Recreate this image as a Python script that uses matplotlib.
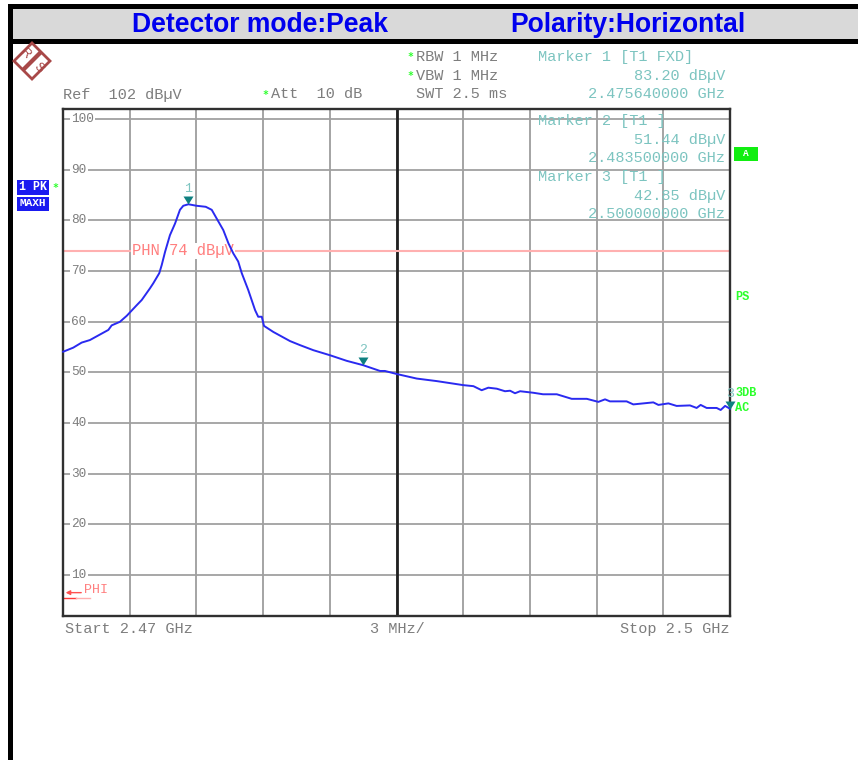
import numpy as np
import matplotlib
matplotlib.use("Agg")
import matplotlib.pyplot as plt
from matplotlib.patches import Rectangle, Polygon
from matplotlib.path import Path

W, H = 858, 760
MONO = "Liberation Mono"
SANS = "Liberation Sans"

# ---- data ----
start_ghz = 2.47
stop_ghz = 2.5
trace_offset_mhz = [0.01, 0.46, 0.84, 1.21, 2.04, 2.19, 2.56, 2.87, 3.32, 3.54, 3.91, 4.06, 4.33, 4.44, 4.59, 4.81, 5.04, 5.26, 5.41,
                    5.64, 6.01, 6.42, 6.69, 6.91, 7.21, 7.44, 7.66, 7.88, 8.04, 8.33, 8.64, 8.78, 8.94, 9.04, 9.46, 10.21,
                    10.66, 11.26, 11.71, 12.01, 12.76, 13.5, 14.26, 14.48, 15.01, 15.91, 16.81, 18.01, 18.46,
                    18.83, 19.13, 19.51, 19.88, 20.11, 20.33, 20.56, 21.15, 21.59, 22.21, 22.88, 23.56, 24.08,
                    24.38, 24.60, 25.35, 25.65, 26.55, 26.78, 27.23, 27.60, 28.20, 28.50, 28.68, 28.95, 29.40,
                    29.58, 29.78, 30.00]
trace_dbuv = [54.1, 54.9, 55.9, 56.4, 58.4, 59.3, 60.0, 61.2, 63.3, 64.3, 66.6, 67.6, 69.6, 71.2, 73.8, 77.1, 79.4, 82.1, 82.9,
              83.2, 82.9, 82.7, 82.1, 80.4, 78.1, 75.5, 73.5, 71.9, 69.6, 66.3, 62.3, 61.0, 61.0, 59.2, 58.0, 56.2,
              55.4, 54.4, 53.8, 53.4, 52.3, 51.44, 50.3, 50.3, 49.7, 48.8, 48.3, 47.5, 47.3,
              46.5, 47.0, 46.8, 46.3, 46.4, 45.9, 46.3, 46.0, 45.7, 45.7, 44.8, 44.8, 44.2,
              44.7, 44.3, 44.3, 43.7, 44.1, 43.6, 43.9, 43.4, 43.5, 43.0, 43.6, 43.0, 43.0,
              42.6, 43.4, 42.85]
marker_ghz = [2.47564, 2.4835, 2.5]
marker_dbuv = [83.20, 51.44, 42.85]
marker_names = ["1", "2", "3"]
y_ticks = [100, 90, 80, 70, 60, 50, 40, 30, 20, 10]
limit_phn = 74
limit_phi = 5.45
ref_level = 102
bottom_level = 2
title_left = "Detector mode:Peak"
title_right = "Polarity:Horizontal"
marker_block = [("Marker 1 [T1 FXD]", "83.20 dBµV", "2.475640000 GHz"),
                ("Marker 2 [T1 ]", "51.44 dBµV", "2.483500000 GHz"),
                ("Marker 3 [T1 ]", "42.85 dBµV", "2.500000000 GHz")]

GRAY_TXT = "#7d7d7d"
TEAL_TXT = "#7cc4c0"
GREEN = "#2cff2c"
SALMON = "#ff7f7f"

fig = plt.figure(figsize=(W / 100, H / 100), dpi=100, facecolor="white")


def fx(x):
    return x / W


def fy(y):
    return 1 - y / H


def frect(x0, y0, x1, y1, color, z=0):
    fig.add_artist(Rectangle((fx(x0), fy(y1)), (x1 - x0) / W, (y1 - y0) / H, transform=fig.transFigure,
                             facecolor=color, edgecolor="none", zorder=z))


def ftext(x, y, s, color=GRAY_TXT, size=11, ha="left", family=MONO, weight="normal", z=5, **kw):
    fig.text(fx(x), fy(y), s, color=color, fontsize=size, ha=ha, va="center", family=family,
             weight=weight, zorder=z, **kw)


# frame and banner
frect(8, 4, W, 44, "black")
frect(13, 9, W, 39, "#d9d9d9", z=1)
frect(8, 4, 13, H, "black", z=2)
ftext(260.5, 25.5, title_left, color="#0000ee", size=19.1, ha="center", family=SANS, weight="bold")
ftext(627.5, 25.5, title_right, color="#0000ee", size=19.1, ha="center", family=SANS, weight="bold")

# plot area
L, R, T, B = 63, 730, 109, 615.7
ax = fig.add_axes([fx(L), fy(B), (R - L) / W, (B - T) / H], zorder=3)
ax.set_xlim(start_ghz, stop_ghz)
ax.set_ylim(bottom_level, ref_level)
ax.set_xticks(np.linspace(start_ghz, stop_ghz, 11)[1:-1])
ax.set_yticks(y_ticks)
ax.tick_params(length=0, labelbottom=False, labelleft=False)
ax.grid(True, axis="x", color="#8c8c8c", lw=1.1)
ax.grid(True, axis="y", color="#a0a0a0", lw=1.3)
ax.set_axisbelow(True)
for s in ax.spines.values():
    s.set_color("#303030")
    s.set_linewidth(1.7)
ax.axvline((start_ghz + stop_ghz) / 2, color="#202020", lw=2.0, zorder=1.5)

# level labels sit on the grid lines
for v in y_ticks:
    ax.annotate(str(v), xy=(start_ghz, v), xytext=(8, 0), textcoords="offset pixels", color=GRAY_TXT,
                fontsize=9.2, family=MONO, va="center", ha="left", zorder=2,
                bbox=dict(facecolor="white", edgecolor="none", pad=1.0))

# limit lines
ax.axhline(limit_phn, color="#ffb0b0", lw=1.5, zorder=1.7)
ax.annotate("PHN 74 dBµV", xy=(start_ghz, limit_phn), xytext=(69, 0), textcoords="offset pixels", color=SALMON,
            fontsize=11.2, family=MONO, va="center", ha="left", zorder=1.9,
            bbox=dict(facecolor="white", edgecolor="none", pad=0.6))
ax.plot([start_ghz, start_ghz + 0.0006], [limit_phi, limit_phi], color="#ff3a3a", lw=1.0, zorder=2)
ax.plot([start_ghz + 0.0006, start_ghz + 0.0012], [limit_phi, limit_phi], color="#ffb0b0", lw=1.0, zorder=2)
ax.annotate("", xy=(start_ghz + 0.00012, limit_phi + 1.1), xytext=(start_ghz + 0.00082, limit_phi + 1.1),
            arrowprops=dict(arrowstyle="-|>,head_width=0.13,head_length=0.25", color="#ff5050", lw=1.0,
                            shrinkA=0, shrinkB=0))
ax.annotate("PHI", xy=(start_ghz, limit_phi + 1.7), xytext=(21, 0), textcoords="offset pixels", color=SALMON,
            fontsize=9.6, family=MONO, va="center", ha="left")

# trace
trace_x = start_ghz + np.array(trace_offset_mhz) / 1000
ax.plot(trace_x, trace_dbuv, color="#2a2af0", lw=1.4, zorder=4, clip_on=False, solid_joinstyle="round")

# markers: tip of the triangle rests on the trace
tip = Path([(-1, 1.6), (1, 1.6), (0, 0), (-1, 1.6)], closed=True)
ax.plot(marker_ghz, marker_dbuv, ls="none", marker=tip, ms=11.5, mfc="#0f8080", mec="none", zorder=5, clip_on=False)
for mx, my, name in zip(marker_ghz, marker_dbuv, marker_names):
    ax.annotate(name, xy=(mx, my), xytext=(0, 15), textcoords="offset pixels", color=TEAL_TXT, fontsize=9.5,
                family=MONO, ha="center", va="center", zorder=6, annotation_clip=False)

# header
ftext(416, 57, "RBW 1 MHz")
ftext(416, 76, "VBW 1 MHz")
ftext(416, 94.5, "SWT 2.5 ms")
ftext(63, 94.5, "Ref  102 dBµV")
ftext(271, 94.5, "Att  10 dB")
for sx, sy in [(410, 57), (410, 76), (265, 95), (55, 188)]:
    ftext(sx, sy, "*", color=GREEN, size=7, ha="center", family="DejaVu Sans Mono", weight="bold")

# marker readouts
for (a, b, c), y0 in zip(marker_block, [57, 121, 177]):
    ftext(538, y0, a, color=TEAL_TXT)
    ftext(725, y0 + 19, b, color=TEAL_TXT, ha="right")
    ftext(725, y0 + 37.5, c, color=TEAL_TXT, ha="right")

# footer
ftext(65, 629, "Start 2.47 GHz")
ftext(370, 629, "3 MHz/")
ftext(729, 629, "Stop 2.5 GHz", ha="right")

# trace tag boxes
frect(17, 180, 49, 195, "#1a1af0", z=4)
frect(17, 197, 49, 210.5, "#1a1af0", z=4)
ftext(33, 187.5, "1 PK", color="white", size=8.4, ha="center", weight="bold")
ftext(33, 203.5, "MAXH", color="white", size=8.0, ha="center", weight="bold")
frect(734, 147, 757.5, 161, "#11ee11", z=4)
ftext(746, 154, "A", color="white", size=6.8, ha="center", weight="bold")
ftext(735, 297.5, "PS", color=GREEN, size=8.6, weight="bold")
ftext(735, 393, "3DB", color=GREEN, size=8.6, weight="bold", z=4)
ftext(735, 408, "AC", color=GREEN, size=8.6, weight="bold")

# R&S logo
BROWN = "#a84848"
cx, cy, r = 32, 61, 18
fig.add_artist(Polygon([(fx(cx - r), fy(cy)), (fx(cx), fy(cy - r)), (fx(cx + r), fy(cy)), (fx(cx), fy(cy + r))],
                       closed=True, transform=fig.transFigure, facecolor="white", edgecolor=BROWN, lw=2.0, zorder=4))
fig.add_artist(Polygon([(fx(cx - 11), fy(cy + 8)), (fx(cx - 8), fy(cy + 11)), (fx(cx + 11), fy(cy - 8)), (fx(cx + 8), fy(cy - 11))],
                       closed=True, transform=fig.transFigure, facecolor=BROWN, edgecolor="none", zorder=4.1))
ftext(25, 54, "R", color=BROWN, size=9, ha="center", family=SANS, rotation=-45)
ftext(38.5, 68, "S", color=BROWN, size=9, ha="center", family=SANS, rotation=-45)

fig.savefig("out.png", dpi=100, facecolor="white")
